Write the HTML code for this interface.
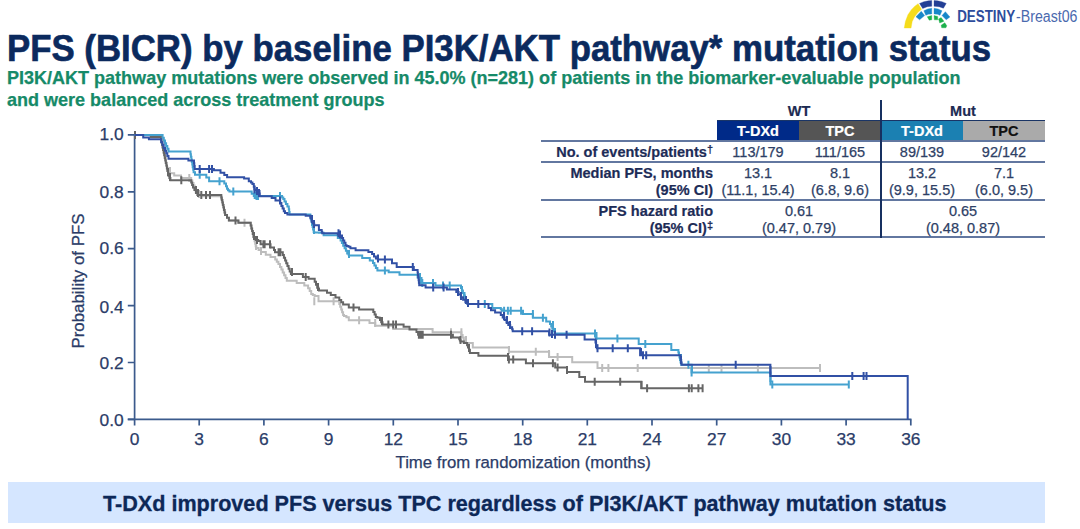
<!DOCTYPE html>
<html><head><meta charset="utf-8">
<style>
html,body{margin:0;padding:0;background:#fff;}
body{width:1080px;height:529px;position:relative;overflow:hidden;font-family:"Liberation Sans",sans-serif;}
.abs{position:absolute;white-space:nowrap;}
#title{left:7px;top:29px;font-size:34.8px;font-weight:bold;color:#0b2a5e;line-height:40px;-webkit-text-stroke:0.6px #0b2a5e;transform:scaleY(1.05);transform-origin:0 31.6px;}
#sub{left:7px;top:67px;font-size:18.02px;font-weight:bold;color:#168a68;line-height:22.3px;-webkit-text-stroke:0.25px #168a68;}
#banner{left:8px;top:481.5px;width:1037px;height:41px;background:#d5e6ff;}
#bannertxt{left:103px;top:490.5px;font-size:21.6px;font-weight:bold;color:#0d2858;line-height:26px;-webkit-text-stroke:0.3px #0d2858;}
.tb{position:absolute;white-space:nowrap;font-size:14.5px;color:#2e3f66;line-height:17px;-webkit-text-stroke:0.25px #2e3f66;}
.lb{font-weight:bold;color:#1d2c57;text-align:right;right:367px;-webkit-text-stroke:0.2px #1d2c57;}
.c{transform:translateX(-50%);}
.hl{position:absolute;left:541px;width:504px;height:2px;background:#6277a0;}
.box{position:absolute;top:120px;height:21px;border-top:1.5px solid #1a3566;box-sizing:border-box;}
.bt{position:absolute;font-weight:bold;font-size:14.5px;line-height:17px;white-space:nowrap;transform:translateX(-50%);-webkit-text-stroke:0.2px currentColor;}
</style></head>
<body>
<div class="abs" id="title">PFS (BICR) by baseline PI3K/AKT pathway* mutation status</div>
<div class="abs" id="sub">PI3K/AKT pathway mutations were observed in 45.0% (n=281) of patients in the biomarker-evaluable population<br>and were balanced across treatment groups</div>
<div class="abs" id="banner"></div>
<div class="abs" id="bannertxt">T-DXd improved PFS versus TPC regardless of PI3K/AKT pathway mutation status</div>
<div class="bt" style="left:799px;top:103px;color:#1c2b52">WT</div>
<div class="bt" style="left:963px;top:103px;color:#1c2b52">Mut</div>
<div class="box" style="left:717px;width:82px;background:#002a88"></div>
<div class="box" style="left:799px;width:82px;background:#555555"></div>
<div class="box" style="left:881px;width:82px;background:#1b80b2"></div>
<div class="box" style="left:963px;width:82px;background:#aaaaaa"></div>
<div class="bt" style="left:758px;top:123px;color:#fff">T-DXd</div>
<div class="bt" style="left:840px;top:123px;color:#fff">TPC</div>
<div class="bt" style="left:922px;top:123px;color:#fff">T-DXd</div>
<div class="bt" style="left:1004px;top:123px;color:#111">TPC</div>
<div class="hl" style="top:140px"></div>
<div class="hl" style="top:161px"></div>
<div class="hl" style="top:199px"></div>
<div class="hl" style="top:236px"></div>
<div style="position:absolute;left:879.7px;top:100px;width:2.5px;height:138px;background:#173060"></div>
<div class="tb lb" style="top:144px">No. of events/patients<sup style="font-size:11px;vertical-align:4px;line-height:0;font-weight:bold">†</sup></div>
<div class="tb lb" style="top:165px">Median PFS, months</div>
<div class="tb lb" style="top:182px">(95% CI)</div>
<div class="tb lb" style="top:203px">PFS hazard ratio</div>
<div class="tb lb" style="top:220px">(95% CI)<sup style="font-size:11px;vertical-align:4px;line-height:0;font-weight:bold">‡</sup></div>
<div class="tb c" style="left:758px;top:144px">113/179</div>
<div class="tb c" style="left:840px;top:144px">111/165</div>
<div class="tb c" style="left:922px;top:144px">89/139</div>
<div class="tb c" style="left:1004px;top:144px">92/142</div>
<div class="tb c" style="left:758px;top:165px">13.1</div>
<div class="tb c" style="left:840px;top:165px">8.1</div>
<div class="tb c" style="left:922px;top:165px">13.2</div>
<div class="tb c" style="left:1004px;top:165px">7.1</div>
<div class="tb c" style="left:758px;top:182px">(11.1, 15.4)</div>
<div class="tb c" style="left:840px;top:182px">(6.8, 9.6)</div>
<div class="tb c" style="left:922px;top:182px">(9.9, 15.5)</div>
<div class="tb c" style="left:1004px;top:182px">(6.0, 9.5)</div>
<div class="tb c" style="left:799px;top:203px">0.61</div>
<div class="tb c" style="left:963px;top:203px">0.65</div>
<div class="tb c" style="left:799px;top:220px">(0.47, 0.79)</div>
<div class="tb c" style="left:963px;top:220px">(0.48, 0.87)</div>
<svg class="abs" style="left:0;top:0" width="1080" height="529" viewBox="0 0 1080 529" id="chart">
<g stroke="#3b5a8c" stroke-width="1.7" fill="none">
<path d="M134.6 134.9 V425.5 M127.8 419.4 H911.5"/>
<path d="M127.8 134.9 H134.6 M127.8 191.8 H134.6 M127.8 248.7 H134.6 M127.8 305.6 H134.6 M127.8 362.5 H134.6 M127.8 419.4 H134.6"/>
<path d="M199.2 419.4 V425.5 M263.9 419.4 V425.5 M328.6 419.4 V425.5 M393.3 419.4 V425.5 M458.0 419.4 V425.5 M522.7 419.4 V425.5 M587.3 419.4 V425.5 M652.0 419.4 V425.5 M716.7 419.4 V425.5 M781.4 419.4 V425.5 M846.1 419.4 V425.5 M910.8 419.4 V425.5"/>
</g>
<g font-family="Liberation Sans, sans-serif" font-size="17.4" fill="#2b3c68" stroke="#2b3c68" stroke-width="0.25">
<text x="123.8" y="140.3" text-anchor="end">1.0</text>
<text x="123.8" y="197.7" text-anchor="end">0.8</text>
<text x="123.8" y="253.9" text-anchor="end">0.6</text>
<text x="123.8" y="312.5" text-anchor="end">0.4</text>
<text x="123.8" y="368.8" text-anchor="end">0.2</text>
<text x="123.8" y="426.0" text-anchor="end">0.0</text>
<text x="134.5" y="445.1" text-anchor="middle">0</text>
<text x="199.2" y="445.1" text-anchor="middle">3</text>
<text x="263.9" y="445.1" text-anchor="middle">6</text>
<text x="328.6" y="445.1" text-anchor="middle">9</text>
<text x="393.3" y="445.1" text-anchor="middle">12</text>
<text x="458.0" y="445.1" text-anchor="middle">15</text>
<text x="522.7" y="445.1" text-anchor="middle">18</text>
<text x="587.3" y="445.1" text-anchor="middle">21</text>
<text x="652.0" y="445.1" text-anchor="middle">24</text>
<text x="716.7" y="445.1" text-anchor="middle">27</text>
<text x="781.4" y="445.1" text-anchor="middle">30</text>
<text x="846.1" y="445.1" text-anchor="middle">33</text>
<text x="910.8" y="445.1" text-anchor="middle">36</text>
<text x="523.2" y="468.1" text-anchor="middle" font-size="16.75">Time from randomization (months)</text>
<text x="0" y="0" text-anchor="middle" font-size="16.9" transform="translate(84 281) rotate(-90)">Probability of PFS</text>
</g>
<g transform="translate(900 0) scale(0.05672)" stroke-linejoin="round" stroke-width="6">
<path fill="#f5dc1b" stroke="#f5dc1b" d="M75 495 L95 380 L140 260 L200 170 L260 110 L320 65 L380 165 L320 215 L260 290 L215 380 L195 495 Z"/>
<path fill="#233f95" stroke="#233f95" d="M345 60 L420 30 L500 15 L560 10 L560 110 L480 118 L400 150 Z M600 10 L660 15 L740 30 L815 60 L765 145 L690 118 L600 110 Z"/>
<path fill="#1887c9" stroke="#1887c9" d="M420 190 L490 158 L560 145 L560 245 L500 250 L455 270 Z M600 145 L670 158 L740 190 L705 270 L660 250 L600 245 Z M280 295 L375 200 L435 275 L345 350 Z M740 275 L800 205 L880 300 L815 350 Z"/>
<path fill="#1cb04b" stroke="#1cb04b" d="M480 295 L560 275 L560 350 L515 355 Z M600 275 L665 290 L665 350 L605 350 Z M680 335 L725 310 L775 375 L700 405 Z M725 445 L790 400 L825 455 L810 490 L735 490 Z"/>
</g>
<text x="957.2" y="21.7" font-family="Liberation Sans, sans-serif" font-size="15.6" font-weight="bold" fill="#2d4c9c" textLength="58" lengthAdjust="spacingAndGlyphs">DESTINY</text><text x="1016" y="21.7" font-family="Liberation Sans, sans-serif" font-size="15.6" fill="#4a69ae" textLength="61.5" lengthAdjust="spacingAndGlyphs">-Breast06</text>
<!--CURVES-->
<path d="M134.5 134.9 L150.8 134.9 L150.8 137.0 L161.0 137.0 L161.0 139.5 L161.5 139.5 L161.5 142.1 L162.1 142.1 L162.1 144.6 L162.6 144.6 L162.6 147.2 L163.2 147.2 L163.2 149.7 L163.7 149.7 L163.7 152.2 L164.2 152.2 L164.2 154.8 L164.8 154.8 L164.8 157.3 L165.3 157.3 L165.3 159.8 L165.8 159.8 L165.8 162.4 L166.4 162.4 L166.4 164.9 L166.9 164.9 L166.9 167.5 L167.5 167.5 L167.5 170.0 L168.0 170.0 L168.0 171.6 L169.2 171.6 L169.2 173.2 L170.4 173.2 L174.2 173.2 L174.2 175.5 L181.0 175.5 L181.0 177.9 L191.2 177.9 L191.2 180.4 L192.3 180.4 L192.3 182.9 L193.5 182.9 L193.5 185.4 L194.6 185.4 L194.6 188.0 L195.7 188.0 L195.7 190.5 L196.9 190.5 L196.9 193.0 L198.0 193.0 L198.0 194.7 L201.5 194.7 L201.5 196.3 L205.0 196.3 L221.3 196.3 L221.3 199.0 L221.9 199.0 L221.9 201.7 L222.6 201.7 L222.6 204.4 L223.2 204.4 L223.2 207.0 L223.8 207.0 L223.8 209.7 L224.5 209.7 L224.5 212.4 L225.1 212.4 L225.1 215.1 L227.0 215.1 L227.0 217.7 L228.9 217.7 L228.9 220.4 L230.8 220.4 L238.4 220.4 L238.4 222.8 L250.7 222.8 L250.7 225.6 L251.4 225.6 L251.4 228.4 L252.1 228.4 L252.1 231.1 L252.8 231.1 L252.8 233.9 L253.5 233.9 L253.5 236.4 L254.1 236.4 L254.1 238.8 L254.6 238.8 L254.6 241.3 L255.2 241.3 L255.2 243.7 L255.7 243.7 L255.7 246.2 L256.3 246.2 L256.3 248.1 L258.6 248.1 L258.6 250.0 L261.0 250.0 L261.0 251.9 L265.8 251.9 L265.8 254.7 L270.5 254.7 L270.5 257.1 L275.2 257.1 L275.2 259.4 L276.8 259.4 L276.8 261.8 L278.4 261.8 L278.4 264.1 L280.0 264.1 L280.0 266.9 L281.4 266.9 L281.4 269.6 L282.7 269.6 L282.7 272.4 L284.1 272.4 L284.1 275.2 L285.5 275.2 L285.5 277.9 L286.8 277.9 L286.8 280.7 L288.2 280.7 L296.7 280.7 L296.7 283.1 L304.3 283.1 L304.3 285.4 L308.1 285.4 L308.1 288.3 L309.7 288.3 L309.7 291.1 L311.2 291.1 L311.2 294.0 L312.8 294.0 L312.8 295.1 L314.7 295.1 L314.7 296.1 L316.6 296.1 L318.5 296.1 L318.5 301.3 L339.3 301.3 L339.3 304.0 L340.2 304.0 L340.2 306.8 L341.2 306.8 L341.2 309.5 L342.1 309.5 L342.1 312.3 L343.1 312.3 L343.1 315.0 L344.0 315.0 L344.0 316.1 L346.4 316.1 L346.4 317.3 L348.8 317.3 L348.8 320.2 L369.5 320.2 L369.5 323.0 L375.2 323.0 L375.2 325.8 L393.2 325.8 L393.2 328.9 L432.6 328.9 L432.6 332.2 L461.4 332.2 L461.4 334.9 L462.6 334.9 L462.6 337.6 L463.8 337.6 L463.8 340.4 L465.0 340.4 L465.0 343.1 L466.2 343.1 L472.8 343.1 L472.8 347.6 L508.9 347.6 L508.9 351.8 L549.1 351.8 L549.1 357.0 L572.2 357.0 L572.2 362.2 L597.5 362.2 L597.5 368.0 L820.0 368.0" fill="none" stroke="#bdbdbd" stroke-width="2.00" stroke-linejoin="miter"/>
<path d="M189.3 173.9 V181.9 M244.5 218.8 V226.8 M314.3 297.3 V305.3 M333.6 297.3 V305.3 M359.1 316.2 V324.2 M375.2 319.0 V327.0 M451.0 328.2 V336.2 M461.4 328.2 V336.2 M535.8 347.8 V355.8 M557.6 353.0 V361.0 M602.2 364.0 V372.0 M608.4 364.0 V372.0 M637.7 364.0 V372.0 M708.8 364.0 V372.0 M721.5 364.0 V372.0 M757.9 364.0 V372.0 M820.0 364.0 V372.0 M170.0 167.0 V175.0 M199.0 190.0 V198.0 M256.0 242.0 V250.0 M261.0 247.0 V255.0 M466.0 336.0 V344.0 M509.0 346.0 V354.0 M549.0 350.0 V358.0" stroke="#bdbdbd" stroke-width="2.00"/>
<path d="M134.5 134.9 L150.8 134.9 L150.8 137.0 L161.0 137.0 L161.0 139.6 L161.5 139.6 L161.5 142.2 L162.1 142.2 L162.1 144.8 L162.6 144.8 L162.6 147.5 L163.1 147.5 L163.1 150.1 L163.7 150.1 L163.7 152.7 L164.2 152.7 L164.2 155.3 L164.8 155.3 L164.8 157.9 L165.3 157.9 L165.3 160.5 L165.8 160.5 L165.8 163.1 L166.4 163.1 L166.4 165.8 L166.9 165.8 L166.9 168.4 L167.4 168.4 L167.4 171.0 L168.0 171.0 L168.0 173.6 L168.5 173.6 L168.5 175.8 L169.4 175.8 L169.4 178.0 L170.4 178.0 L170.4 180.2 L171.3 180.2 L191.2 180.2 L191.2 182.6 L192.1 182.6 L192.1 185.0 L193.0 185.0 L193.0 187.5 L194.4 187.5 L194.4 189.9 L195.9 189.9 L195.9 192.4 L197.4 192.4 L197.4 194.9 L198.8 194.9 L221.3 194.9 L221.3 197.4 L221.8 197.4 L221.8 199.9 L222.4 199.9 L222.4 202.4 L222.9 202.4 L222.9 204.9 L223.5 204.9 L223.5 207.4 L224.0 207.4 L224.0 209.9 L224.6 209.9 L224.6 212.4 L225.1 212.4 L225.1 215.1 L227.0 215.1 L227.0 217.7 L228.9 217.7 L228.9 220.4 L230.8 220.4 L238.4 220.4 L238.4 222.8 L250.7 222.8 L250.7 225.6 L251.4 225.6 L251.4 228.4 L252.1 228.4 L252.1 231.1 L252.8 231.1 L252.8 233.9 L253.5 233.9 L253.5 236.9 L255.8 236.9 L255.8 240.0 L258.2 240.0 L258.2 241.0 L260.6 241.0 L260.6 244.3 L270.5 244.3 L270.5 247.6 L274.0 247.6 L274.0 249.9 L275.0 249.9 L275.0 252.3 L276.0 252.3 L282.8 252.3 L282.8 255.0 L283.9 255.0 L283.9 257.8 L285.1 257.8 L285.1 260.5 L286.2 260.5 L286.2 263.2 L287.4 263.2 L287.4 265.9 L288.6 265.9 L288.6 268.7 L289.7 268.7 L289.7 271.4 L290.9 271.4 L290.9 274.1 L292.0 274.1 L302.9 274.1 L302.9 276.9 L308.6 276.9 L308.6 278.8 L314.7 278.8 L314.7 281.8 L316.0 281.8 L316.0 284.8 L317.2 284.8 L317.2 287.8 L318.5 287.8 L318.5 289.1 L319.0 289.1 L319.0 290.4 L319.5 290.4 L327.0 290.4 L327.0 292.8 L330.8 292.8 L330.8 295.1 L335.5 295.1 L335.5 297.5 L339.3 297.5 L339.3 299.9 L341.2 299.9 L341.2 302.2 L343.1 302.2 L343.1 304.6 L348.8 304.6 L348.8 307.4 L359.1 307.4 L359.1 309.5 L373.3 309.5 L373.3 312.0 L374.6 312.0 L374.6 314.4 L375.8 314.4 L375.8 316.9 L377.1 316.9 L377.1 317.4 L378.6 317.4 L378.6 317.8 L380.0 317.8 L380.0 320.0 L381.2 320.0 L381.2 322.2 L382.5 322.2 L382.5 324.4 L383.7 324.4 L403.6 324.4 L403.6 326.8 L409.5 326.8 L409.5 329.4 L416.5 329.4 L416.5 332.1 L418.1 332.1 L418.1 334.8 L419.8 334.8 L452.9 334.8 L452.9 337.4 L459.1 337.4 L459.1 338.8 L459.8 338.8 L459.8 340.2 L460.5 340.2 L460.5 341.6 L463.8 341.6 L463.8 343.1 L467.1 343.1 L467.1 345.3 L468.0 345.3 L468.0 347.5 L469.0 347.5 L469.0 349.7 L469.9 349.7 L469.9 353.0 L478.4 353.0 L478.4 355.8 L508.0 355.8 L508.0 359.4 L525.9 359.4 L525.9 363.2 L555.2 363.2 L555.2 367.4 L567.0 367.4 L567.0 372.1 L579.3 372.1 L579.3 376.9 L585.0 376.9 L585.0 381.7 L641.4 381.7 L641.4 388.3 L703.0 388.3" fill="none" stroke="#666666" stroke-width="2.00" stroke-linejoin="miter"/>
<path d="M135.0 130.9 V138.9 M181.3 176.2 V184.2 M235.5 216.4 V224.4 M263.4 240.3 V248.3 M264.6 240.3 V248.3 M270.0 240.3 V248.3 M278.6 248.3 V256.3 M280.4 248.3 V256.3 M305.7 272.9 V280.9 M353.5 303.4 V311.4 M388.4 320.4 V328.4 M393.2 320.4 V328.4 M396.0 320.4 V328.4 M418.9 330.8 V338.8 M420.8 330.8 V338.8 M422.7 330.8 V338.8 M451.0 330.8 V338.8 M508.9 355.4 V363.4 M513.2 355.4 V363.4 M533.0 359.2 V367.2 M552.9 359.2 V367.2 M557.6 363.4 V371.4 M594.7 377.7 V385.7 M620.2 377.7 V385.7 M647.1 384.3 V392.3 M688.9 384.3 V392.3 M691.7 384.3 V392.3 M698.4 384.3 V392.3 M702.6 384.3 V392.3 M168.0 168.0 V176.0 M170.0 173.0 V181.0 M196.0 186.0 V194.0 M198.0 189.0 V197.0 M254.0 232.0 V240.0 M257.0 236.0 V244.0 M292.0 268.0 V276.0 M318.0 283.0 V291.0 M382.0 317.0 V325.0 M460.5 336.0 V344.0 M469.0 344.0 V352.0 M508.0 353.0 V361.0 M567.0 366.0 V374.0 M641.4 381.0 V389.0 M201.3 190.9 V198.9 M206.0 190.9 V198.9 M210.0 190.9 V198.9" stroke="#666666" stroke-width="2.00"/>
<path d="M134.5 134.9 L162.6 134.9 L162.6 137.7 L163.8 137.7 L163.8 140.5 L165.0 140.5 L165.0 143.2 L166.1 143.2 L166.1 146.0 L167.3 146.0 L167.3 148.8 L168.5 148.8 L168.5 151.6 L169.7 151.6 L190.5 151.6 L190.5 154.2 L190.9 154.2 L190.9 156.8 L191.4 156.8 L191.4 159.4 L191.8 159.4 L191.8 162.0 L192.3 162.0 L192.3 164.6 L192.7 164.6 L192.7 167.2 L193.2 167.2 L193.2 169.8 L193.6 169.8 L193.6 172.3 L195.0 172.3 L195.0 174.8 L196.4 174.8 L206.3 174.8 L206.3 177.4 L209.1 177.4 L209.1 181.2 L224.3 181.2 L224.3 183.6 L226.0 183.6 L226.0 186.2 L227.0 186.2 L227.0 188.8 L228.0 188.8 L228.0 190.2 L229.4 190.2 L229.4 191.6 L230.9 191.6 L251.7 191.6 L251.7 193.8 L253.8 193.8 L253.8 196.0 L256.0 196.0 L282.1 196.0 L282.1 197.5 L283.3 197.5 L283.3 199.0 L284.5 199.0 L284.5 201.5 L285.9 201.5 L285.9 204.1 L287.4 204.1 L287.4 206.6 L288.8 206.6 L288.8 209.2 L289.2 209.2 L289.2 211.9 L289.6 211.9 L289.6 214.5 L290.0 214.5 L310.4 214.5 L310.4 217.0 L310.9 217.0 L310.9 219.5 L311.5 219.5 L311.5 222.0 L312.0 222.0 L312.0 224.4 L312.6 224.4 L312.6 226.9 L313.1 226.9 L313.1 229.4 L313.7 229.4 L313.7 231.9 L314.2 231.9 L314.2 232.4 L318.9 232.4 L318.9 232.8 L323.6 232.8 L323.6 235.2 L337.8 235.2 L337.8 238.0 L340.6 238.0 L340.6 240.6 L341.9 240.6 L341.9 243.1 L343.2 243.1 L343.2 245.7 L344.6 245.7 L344.6 248.3 L345.9 248.3 L345.9 250.8 L347.2 250.8 L347.2 253.4 L348.5 253.4 L348.5 254.4 L349.0 254.4 L349.0 255.4 L349.5 255.4 L362.2 255.4 L362.2 258.1 L369.8 258.1 L369.8 260.4 L373.0 260.4 L373.0 262.9 L374.4 262.9 L374.4 265.4 L375.9 265.4 L375.9 267.9 L377.4 267.9 L377.4 270.4 L378.8 270.4 L388.7 270.4 L388.7 272.3 L399.5 272.3 L399.5 274.6 L399.5 274.7 L408.6 274.7 L408.6 274.8 L417.6 274.8 L417.6 277.5 L419.2 277.5 L419.2 280.2 L420.7 280.2 L420.7 282.9 L422.3 282.9 L435.5 282.9 L435.5 285.4 L461.0 285.4 L461.0 287.9 L461.9 287.9 L461.9 290.4 L462.9 290.4 L462.9 292.9 L463.9 292.9 L463.9 295.4 L464.8 295.4 L464.8 297.9 L465.8 297.9 L465.8 300.4 L466.7 300.4 L466.7 302.2 L467.4 302.2 L467.4 304.0 L468.0 304.0 L492.3 304.0 L492.3 307.9 L500.8 307.9 L500.8 309.3 L501.8 309.3 L501.8 310.7 L502.7 310.7 L523.0 310.7 L523.0 314.0 L532.9 314.0 L532.9 317.8 L546.2 317.8 L546.2 321.6 L550.0 321.6 L550.0 324.0 L551.2 324.0 L551.2 326.4 L552.3 326.4 L552.3 328.8 L553.5 328.8 L553.5 331.2 L554.6 331.2 L554.6 333.6 L555.8 333.6 L595.5 333.6 L595.5 336.0 L596.0 336.0 L596.0 338.4 L596.6 338.4 L638.7 338.4 L638.7 344.1 L671.3 344.1 L671.3 350.1 L678.4 350.1 L678.4 352.6 L679.0 352.6 L679.0 355.0 L679.5 355.0 L679.5 357.5 L680.0 357.5 L680.0 359.9 L680.6 359.9 L680.6 362.4 L681.2 362.4 L681.2 364.8 L681.7 364.8 L691.6 364.8 L691.6 372.6 L770.4 372.6 L770.4 384.4 L848.8 384.4" fill="none" stroke="#45a2cf" stroke-width="2.00" stroke-linejoin="miter"/>
<path d="M199.7 170.8 V178.8 M219.5 177.2 V185.2 M233.3 187.6 V195.6 M280.0 192.0 V200.0 M384.9 266.4 V274.4 M422.3 278.9 V286.9 M449.7 281.4 V289.4 M504.1 306.7 V314.7 M507.9 306.7 V314.7 M510.7 306.7 V314.7 M521.1 306.7 V314.7 M532.9 310.0 V318.0 M542.9 313.8 V321.8 M595.0 329.6 V337.6 M617.4 334.4 V342.4 M645.3 340.1 V348.1 M688.4 360.8 V368.8 M691.6 368.6 V376.6 M772.3 380.4 V388.4 M848.8 380.4 V388.4 M254.7 191.0 V199.0 M256.5 192.0 V200.0 M258.0 192.0 V200.0 M312.0 218.0 V226.0 M314.0 226.0 V234.0 M349.0 250.0 V258.0 M420.0 273.0 V281.0 M421.5 277.0 V285.0 M433.0 278.9 V286.9 M443.0 281.4 V289.4 M462.0 286.0 V294.0 M464.5 292.0 V300.0 M484.8 300.0 V308.0 M553.0 321.0 V329.0 M555.0 328.0 V336.0 M596.5 332.0 V340.0 M681.0 354.0 V362.0 M692.0 365.0 V373.0 M770.5 374.0 V382.0" stroke="#45a2cf" stroke-width="2.00"/>
<path d="M134.5 134.9 L143.2 134.9 L143.2 137.5 L148.9 137.5 L148.9 139.3 L161.2 139.3 L161.2 142.2 L162.5 142.2 L162.5 145.1 L163.7 145.1 L163.7 148.0 L165.0 148.0 L165.0 150.7 L166.2 150.7 L166.2 153.3 L167.3 153.3 L167.3 156.0 L168.5 156.0 L168.5 158.7 L169.7 158.7 L188.4 158.7 L188.4 160.4 L194.0 160.4 L194.0 163.2 L194.3 163.2 L194.3 166.1 L194.7 166.1 L194.7 168.9 L195.0 168.9 L213.9 168.9 L213.9 170.3 L220.5 170.3 L220.5 172.7 L224.3 172.7 L224.3 175.0 L227.1 175.0 L227.1 177.2 L244.1 177.2 L244.1 178.4 L248.8 178.4 L248.8 181.2 L251.0 181.2 L251.0 182.6 L252.4 182.6 L252.4 183.9 L253.8 183.9 L253.8 186.8 L254.4 186.8 L254.4 189.6 L255.0 189.6 L255.0 190.3 L257.2 190.3 L257.2 191.0 L259.5 191.0 L259.5 193.6 L259.8 193.6 L259.8 196.2 L260.0 196.2 L271.7 196.2 L271.7 198.1 L275.5 198.1 L275.5 200.4 L280.2 200.4 L280.2 203.1 L281.4 203.1 L281.4 205.9 L282.6 205.9 L282.6 208.6 L283.8 208.6 L283.8 211.3 L285.0 211.3 L285.0 212.9 L287.4 212.9 L287.4 214.5 L289.7 214.5 L305.7 214.5 L305.7 215.8 L310.4 215.8 L310.4 218.3 L311.7 218.3 L311.7 220.9 L312.9 220.9 L312.9 223.4 L314.2 223.4 L314.2 225.2 L318.9 225.2 L318.9 230.0 L321.7 230.0 L321.7 231.7 L322.2 231.7 L322.2 233.3 L322.7 233.3 L337.8 233.3 L337.8 234.4 L339.7 234.4 L339.7 235.4 L341.6 235.4 L342.0 235.4 L342.0 237.9 L343.1 237.9 L343.1 240.4 L344.3 240.4 L344.3 242.8 L345.5 242.8 L345.5 245.3 L346.6 245.3 L346.6 246.0 L348.5 246.0 L348.5 246.7 L350.4 246.7 L350.4 248.2 L355.6 248.2 L355.6 250.3 L368.4 250.3 L368.4 251.9 L372.1 251.9 L372.1 254.1 L374.0 254.1 L374.0 256.4 L375.9 256.4 L375.9 258.6 L377.8 258.6 L377.8 259.5 L392.0 259.5 L392.0 263.3 L396.7 263.3 L396.7 267.1 L413.8 267.1 L413.8 270.1 L417.6 270.1 L417.6 272.6 L417.9 272.6 L417.9 275.1 L418.2 275.1 L418.2 277.6 L418.6 277.6 L418.6 280.2 L418.9 280.2 L418.9 282.7 L419.2 282.7 L419.2 285.2 L419.5 285.2 L425.6 285.2 L425.6 287.6 L446.9 287.6 L446.9 289.5 L456.3 289.5 L456.3 292.1 L458.6 292.1 L458.6 294.6 L460.9 294.6 L460.9 297.2 L463.1 297.2 L463.1 299.7 L465.4 299.7 L465.4 302.3 L467.7 302.3 L467.7 304.0 L488.5 304.0 L488.5 307.9 L491.0 307.9 L491.0 310.2 L495.1 310.2 L495.1 312.6 L500.8 312.6 L500.8 315.1 L502.7 315.1 L502.7 317.5 L504.6 317.5 L504.6 320.0 L506.5 320.0 L506.5 322.4 L508.3 322.4 L508.3 324.9 L510.2 324.9 L510.2 327.3 L512.1 327.3 L512.1 329.3 L512.7 329.3 L512.7 331.3 L513.2 331.3 L549.1 331.3 L549.1 334.8 L584.6 334.8 L584.6 339.5 L595.5 339.5 L595.5 342.4 L596.1 342.4 L596.1 345.4 L596.8 345.4 L596.8 348.3 L597.4 348.3 L640.1 348.3 L640.1 355.3 L680.5 355.3 L680.5 357.7 L680.9 357.7 L680.9 360.1 L681.2 360.1 L681.2 362.4 L681.6 362.4 L681.6 364.8 L682.0 364.8 L770.4 364.8 L770.4 375.9 L907.7 375.9 L907.7 419.4" fill="none" stroke="#3150a5" stroke-width="2.00" stroke-linejoin="miter"/>
<path d="M199.7 164.9 V172.9 M209.1 164.9 V172.9 M212.0 164.9 V172.9 M280.0 196.4 V204.4 M384.9 255.5 V263.5 M412.8 263.1 V271.1 M433.2 283.6 V291.6 M443.6 283.6 V291.6 M522.2 327.3 V335.3 M532.1 327.3 V335.3 M566.6 330.8 V338.8 M612.7 344.3 V352.3 M627.8 344.3 V352.3 M646.2 351.3 V359.3 M735.7 360.8 V368.8 M852.3 371.9 V379.9 M863.6 371.9 V379.9 M866.5 371.9 V379.9 M254.5 185.6 V193.6 M257.0 187.0 V195.0 M259.0 189.0 V197.0 M312.0 215.0 V223.0 M314.0 220.0 V228.0 M338.5 229.3 V237.3 M340.0 230.5 V238.5 M378.0 254.6 V262.6 M458.0 288.0 V296.0 M461.0 292.0 V300.0 M466.0 296.0 V304.0 M468.0 299.0 V307.0 M478.3 300.0 V308.0 M504.0 312.0 V320.0 M507.0 316.0 V324.0 M510.0 321.0 V329.0 M549.5 328.5 V336.5 M552.0 330.0 V338.0 M555.0 330.8 V338.8 M596.0 340.0 V348.0 M597.5 344.3 V352.3 M641.0 348.0 V356.0 M643.0 351.3 V359.3 M681.0 356.0 V364.0 M770.4 366.0 V374.0" stroke="#3150a5" stroke-width="2.00"/>
<!--/CURVES-->
</svg>
</body></html>
